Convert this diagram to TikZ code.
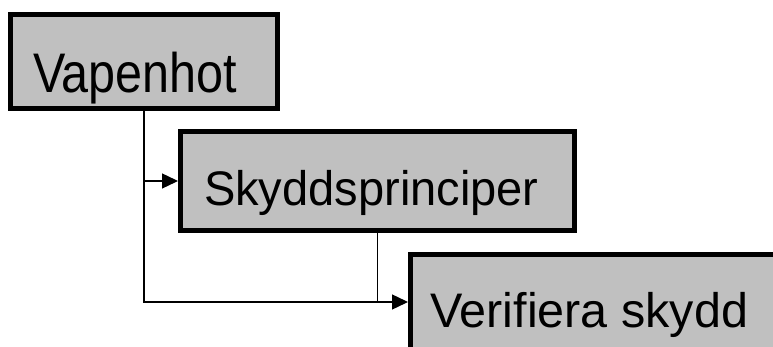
\documentclass[tikz,border=0pt]{standalone}
\usepackage{fontspec}
\setmainfont{Liberation Sans}
\usetikzlibrary{arrows.meta}
\definecolor{boxgray}{HTML}{C0C0C0}
\tikzset{
  box/.style={draw=black, fill=boxgray, line width=5pt, rectangle,
    inner sep=0pt, outer sep=2.5pt},
  lbl/.style={inner sep=0pt, outer sep=0pt, anchor=base west,
    font=\fontsize{48.5}{58}\selectfont},
  conn/.style={line width=1.4pt, -{Triangle[length=16pt,width=15pt]}},
  link/.style={line width=1.4pt}
}
\begin{document}
\begin{tikzpicture}[x=1pt, y=-1pt]
  \useasboundingbox (0,0) rectangle (773,347);
  \clip (0,0) rectangle (773,347);
  \fill[white] (0,0) rectangle (773,347);

  % the three boxes
  \node[box, minimum width=267pt, minimum height=94pt] (vap) at (144,61.5) {};
  \node[box, minimum width=394pt, minimum height=99pt] (sky) at (377.5,181) {};
  \node[box, minimum width=400pt, minimum height=95pt] (ver) at (610.5,302) {};

  % labels
  \node[lbl] (tvap) at (33,93) {\scalebox{1}[1.15]{Vapenhot}};
  \node[lbl] (tsky) at (204,206) {\scalebox{0.97}[1]{Skyddsprinciper}};
  \node[lbl] (tver) at (430,327) {Verifiera skydd};

  % connectors
  \draw[conn] (vap.south) |- (sky.west);
  \draw[conn] (vap.south) |- (ver.west);
  \draw[link] (sky.south) -- (sky.south |- ver.west);
\end{tikzpicture}
\end{document}
